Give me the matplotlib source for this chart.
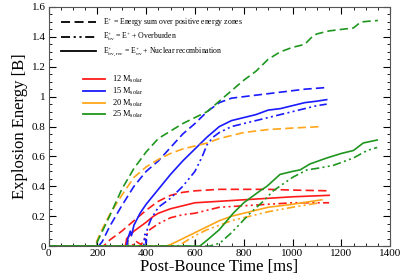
import numpy as np
import matplotlib
matplotlib.use("Agg")
import matplotlib.pyplot as plt
from matplotlib.lines import Line2D
from matplotlib.ticker import MultipleLocator, FormatStrFormatter

plt.rcParams['font.family'] = ['Liberation Serif', 'DejaVu Serif']
plt.rcParams['mathtext.fontset'] = 'custom'
plt.rcParams['mathtext.rm'] = 'Liberation Serif'
plt.rcParams['mathtext.it'] = 'Liberation Serif'

# 12 Msolar
t12_e = [0, 225, 250, 300, 350, 400, 450, 500, 550, 600, 700, 900, 1000, 1150]
e12_e = [0, 0, 0.04, 0.10, 0.17, 0.24, 0.30, 0.34, 0.36, 0.37, 0.38, 0.38, 0.375, 0.37]
t12_rec = [0, 315, 320, 350, 400, 430, 450, 500, 550, 600, 700, 800, 900, 1000, 1150]
e12_rec = [0, 0, 0.05, 0.10, 0.16, 0.20, 0.22, 0.25, 0.27, 0.29, 0.30, 0.31, 0.32, 0.33, 0.34]
t12_ov = [0, 340, 360, 380, 400, 415, 450, 500, 550, 600, 700, 800, 900, 1000, 1150]
e12_ov = [0, 0, 0.03, 0.01, 0.07, 0.11, 0.15, 0.19, 0.21, 0.22, 0.26, 0.27, 0.28, 0.29, 0.29]

# 15 Msolar
t15_e = [0, 205, 220, 250, 300, 350, 400, 450, 500, 550, 600, 650, 700, 750, 800, 900, 1000, 1050, 1130]
e15_e = [0, 0, 0.03, 0.13, 0.27, 0.40, 0.50, 0.57, 0.66, 0.75, 0.82, 0.90, 0.96, 0.99, 1.00, 1.02, 1.04, 1.05, 1.06]
t15_rec = [0, 320, 325, 335, 340, 350, 375, 400, 450, 500, 550, 600, 650, 700, 750, 800, 850, 900, 950, 1000, 1050, 1100, 1140]
e15_rec = [0, 0, 0.05, 0.10, 0.07, 0.14, 0.22, 0.28, 0.38, 0.48, 0.57, 0.65, 0.73, 0.80, 0.84, 0.86, 0.88, 0.91, 0.92, 0.94, 0.96, 0.97, 0.98]
t15_ov = [0, 390, 395, 400, 405, 420, 450, 500, 550, 600, 630, 650, 675, 700, 750, 800, 900, 1000, 1050, 1100, 1140]
e15_ov = [0, 0, 0.08, 0.02, 0.12, 0.18, 0.26, 0.32, 0.40, 0.50, 0.60, 0.68, 0.73, 0.76, 0.80, 0.82, 0.86, 0.90, 0.92, 0.94, 0.95]

# 20 Msolar
t20_e = [0, 190, 210, 250, 300, 350, 400, 450, 500, 550, 600, 650, 700, 750, 800, 900, 1000, 1120]
e20_e = [0, 0, 0.08, 0.21, 0.34, 0.46, 0.53, 0.58, 0.62, 0.65, 0.67, 0.69, 0.72, 0.74, 0.76, 0.78, 0.79, 0.80]
t20_rec = [0, 480, 500, 550, 600, 650, 700, 750, 800, 900, 1000, 1120]
e20_rec = [0, 0, 0.01, 0.05, 0.09, 0.13, 0.17, 0.20, 0.22, 0.26, 0.28, 0.31]
t20_ov = [0, 530, 560, 600, 650, 700, 750, 800, 900, 1000, 1110]
e20_ov = [0, 0, 0.03, 0.07, 0.11, 0.14, 0.17, 0.19, 0.23, 0.26, 0.29]

# 25 Msolar
t25_e = [0, 190, 200, 250, 300, 350, 400, 450, 500, 550, 600, 650, 700, 750, 800, 850, 900, 950, 1000, 1050, 1080, 1100, 1150, 1200, 1250, 1280, 1350]
e25_e = [0, 0, 0.03, 0.20, 0.38, 0.52, 0.63, 0.72, 0.77, 0.82, 0.86, 0.90, 0.97, 1.04, 1.11, 1.17, 1.25, 1.30, 1.33, 1.35, 1.40, 1.42, 1.44, 1.45, 1.46, 1.50, 1.51]
t25_rec = [0, 620, 650, 700, 757, 800, 867, 895, 949, 1000, 1031, 1072, 1141, 1200, 1250, 1290, 1347]
e25_rec = [0, 0, 0.04, 0.11, 0.22, 0.29, 0.37, 0.40, 0.48, 0.50, 0.51, 0.55, 0.59, 0.62, 0.64, 0.69, 0.71]
t25_ov = [0, 660, 702, 750, 826, 880, 921, 1000, 1059, 1100, 1167, 1250, 1306, 1347]
e25_ov = [0, 0, 0.02, 0.09, 0.22, 0.30, 0.37, 0.46, 0.51, 0.52, 0.54, 0.59, 0.64, 0.66]

# gray onset markers near the x axis
onset_t = [200, 325, 400, 600]
onset_h = 0.04

masses = ['12', '15', '20', '25']
colors = ['#ff1a1a', '#1a1aff', '#ffa61a', '#1f961f']

dash = (0, (5, 2.5))
dashdotdot = (0, (5, 2, 1.2, 2, 1.2, 2))

fig = plt.figure(figsize=(4.15, 2.8), dpi=100)
ax = fig.add_axes([0.117, 0.121, 0.823, 0.854])

series = [
    (t12_e, e12_e, t12_ov, e12_ov, t12_rec, e12_rec),
    (t15_e, e15_e, t15_ov, e15_ov, t15_rec, e15_rec),
    (t20_e, e20_e, t20_ov, e20_ov, t20_rec, e20_rec),
    (t25_e, e25_e, t25_ov, e25_ov, t25_rec, e25_rec),
]
for (te, ee, to, eo, tr, er), c in zip(series, colors):
    ax.plot(te, ee, color=c, lw=1.2, linestyle=dash)
    ax.plot(to, eo, color=c, lw=1.2, linestyle=dashdotdot)
    ax.plot(tr, er, color=c, lw=1.2, linestyle='-')

ax.vlines(onset_t, 0, onset_h, color='#999999', lw=1.5, zorder=1)

ax.set_xlim(0, 1400)
ax.set_ylim(0, 1.6)
ax.xaxis.set_major_locator(MultipleLocator(200))
ax.xaxis.set_minor_locator(MultipleLocator(50))
ax.yaxis.set_major_locator(MultipleLocator(0.2))
ax.yaxis.set_minor_locator(MultipleLocator(0.05))
ax.yaxis.set_major_formatter(FormatStrFormatter('%g'))
ax.tick_params(which='both', direction='in', top=True, right=True, labelsize=8, pad=2)
ax.tick_params(which='major', length=5)
ax.tick_params(which='minor', length=2.5)
for s in ax.spines.values():
    s.set_color('#555555')

ax.set_xlabel('Post-Bounce Time [ms]', fontsize=12, labelpad=1)
ax.set_ylabel('Explosion Energy [B]', fontsize=12, labelpad=3)

h1 = [Line2D([], [], color='k', lw=1.3, linestyle=dash),
      Line2D([], [], color='k', lw=1.3, linestyle=dashdotdot),
      Line2D([], [], color='k', lw=1.3, linestyle='-')]
l1 = ['E$^{+}$ = Energy sum over positive energy zones',
      'E$^{+}_{ov}$ = E$^{+}$ + Overburden',
      'E$^{+}_{ov,rec}$ = E$^{+}_{ov}$ + Nuclear recombination']
leg1 = ax.legend(h1, l1, loc='upper left', bbox_to_anchor=(0.015, 0.99), frameon=False,
                 fontsize=5.6, handlelength=4.6, handletextpad=0.9, labelspacing=0.3)
ax.add_artist(leg1)

h2 = [Line2D([], [], color=c, lw=1.3) for c in colors]
l2 = [m + ' M$_{solar}$' for m in masses]
ax.legend(h2, l2, loc='upper left', bbox_to_anchor=(0.08, 0.75), frameon=False,
          fontsize=6.0, handlelength=2.6, handletextpad=0.8, labelspacing=0.05)

fig.savefig('out.png', dpi=100)
